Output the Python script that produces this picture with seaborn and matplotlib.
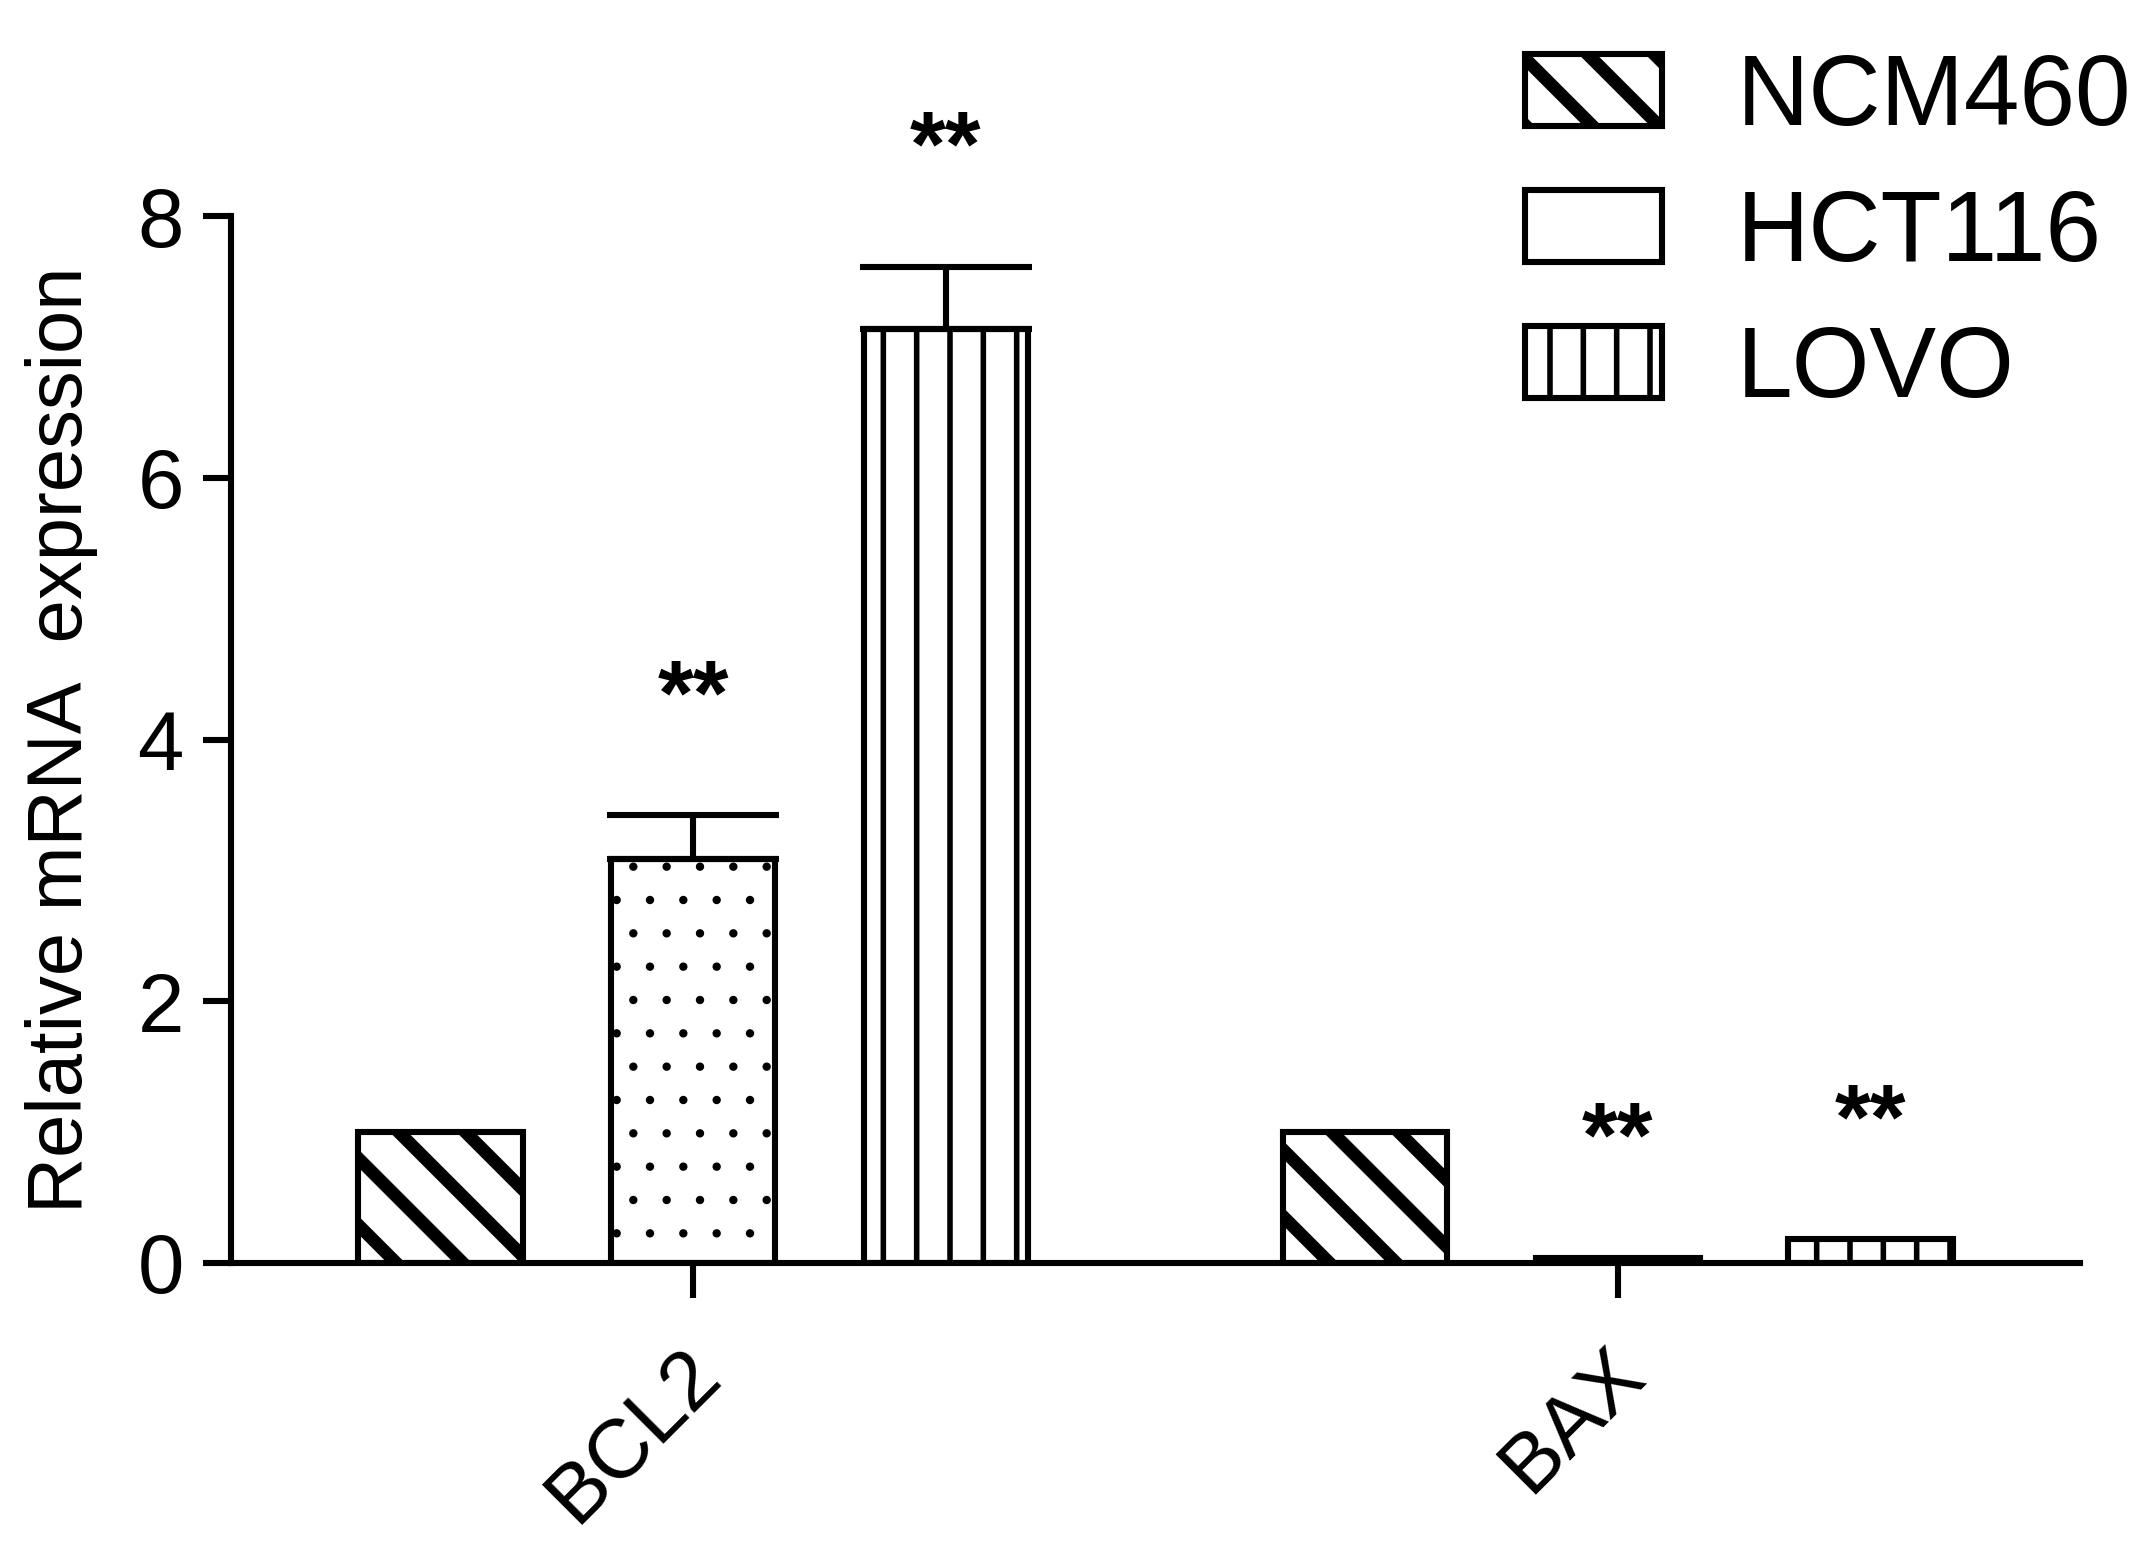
import pandas as pd
import matplotlib
matplotlib.use("Agg")
import matplotlib.pyplot as plt
import matplotlib.patches as mpatches
import matplotlib.transforms as mtransforms
import seaborn as sns

# Data
genes = ["BCL2", "BAX"]
cells = ["NCM460", "HCT116", "LOVO"]
bcl2_mean = [1.0, 3.09, 7.14]
bax_mean = [1.0, 0.04, 0.18]
bcl2_sd = [0.0, 0.33, 0.47]
bax_sd = [0.0, 0.0, 0.0]
signif = ["", "**", "**"]

y_ticks = [0, 2, 4, 6, 8]
y_label = "Relative mRNA  expression"

# hatch pattern and hatch line width (pt) per cell line
hatches = {"NCM460": "\\", "HCT116": ".", "LOVO": "|"}
legend_hatches = {"NCM460": "\\", "HCT116": "", "LOVO": "|"}
hatch_lw = {"NCM460": 4.6, "HCT116": 0.6, "LOVO": 2.0}

DPI = 200
W, H = 2141, 1562


def build_frame():
    rows = []
    for gene, means, sds in [("BCL2", bcl2_mean, bcl2_sd), ("BAX", bax_mean, bax_sd)]:
        for cell, m, s, star in zip(cells, means, sds, signif):
            rows.append({"gene": gene, "cell": cell, "value": m, "sd": s, "star": star})
    return pd.DataFrame(rows)


def set_hatch_lw(patch, lw):
    if hasattr(patch, "set_hatch_linewidth"):
        patch.set_hatch_linewidth(lw)
    else:
        patch._hatch_linewidth = lw


def style_bar(patch, cell, lw):
    patch.set_facecolor("white")
    patch.set_edgecolor("black")
    patch.set_linewidth(lw)
    patch.set_hatch(hatches[cell])
    set_hatch_lw(patch, hatch_lw[cell])


def main():
    df = build_frame()

    sns.set_style("ticks", rc={"text.color": "black", "axes.labelcolor": "black",
                               "xtick.color": "black", "ytick.color": "black"})
    plt.rcParams["font.family"] = ["Liberation Sans", "DejaVu Sans"]
    plt.rcParams["hatch.color"] = "black"
    plt.rcParams["hatch.linewidth"] = 2.0

    fig = plt.figure(figsize=(W / DPI, H / DPI), dpi=DPI)
    ax = fig.add_axes([231 / W, 299 / H, (2080 - 231) / W, (1263 - 216) / H])

    sns.barplot(data=df, x="gene", y="value", hue="cell", order=genes,
                hue_order=cells, errorbar=None, width=0.82, gap=0.35,
                legend=False, ax=ax)

    edge_lw = 2.2
    for cell, container in zip(cells, ax.containers):
        sub = df[df["cell"] == cell].reset_index(drop=True)
        for patch, (_, row) in zip(container.patches, sub.iterrows()):
            style_bar(patch, cell, edge_lw)
            cx = patch.get_x() + patch.get_width() / 2
            top = patch.get_height()
            if row["sd"] > 0:
                ax.errorbar([cx], [top], yerr=[[0], [row["sd"]]], fmt="none",
                            ecolor="black", elinewidth=edge_lw, capsize=31,
                            capthick=edge_lw, zorder=1)
            if row["star"]:
                ax.text(cx, top + row["sd"] + 0.88, row["star"], ha="center",
                        va="center", fontsize=33, fontweight="bold",
                        color="black")

    ax.set_ylim(0, 8)
    ax.set_xlim(-0.5, 1.5)
    ax.set_yticks(y_ticks)
    ax.set_yticklabels([str(t) for t in y_ticks], fontsize=30)
    ax.set_xticks(range(len(genes)))
    ax.set_xticklabels(genes, fontsize=30, rotation=45, ha="right",
                       va="center", rotation_mode="anchor")
    ax.tick_params(axis="y", length=10, width=edge_lw, pad=7, color="black")
    ax.tick_params(axis="x", length=12.6, width=edge_lw, pad=28, color="black")
    # nudge the rotated gene labels a little along their baseline
    shift = mtransforms.ScaledTranslation(14 / DPI, 14 / DPI, fig.dpi_scale_trans)
    for lab in ax.get_xticklabels():
        lab.set_transform(lab.get_transform() + shift)
    ax.set_xlabel("")
    ax.set_ylabel(y_label, fontsize=28, labelpad=14)

    sns.despine(ax=ax)
    for side in ["left", "bottom"]:
        ax.spines[side].set_linewidth(edge_lw)
        ax.spines[side].set_color("black")

    handles = []
    for cell in cells:
        h = mpatches.Patch(facecolor="white", edgecolor="black",
                           linewidth=edge_lw, hatch=legend_hatches[cell], label=cell)
        handles.append(h)
    leg = fig.legend(handles=handles, loc="upper left",
                     bbox_to_anchor=(1525 / W, 1 - 52 / H), frameon=False,
                     fontsize=36, handlelength=1.37, handleheight=0.73,
                     handletextpad=0.75, labelspacing=0.42, borderpad=0,
                     borderaxespad=0)
    for cell, p in zip(cells, leg.get_patches()):
        set_hatch_lw(p, hatch_lw[cell])

    fig.savefig("out.png", dpi=DPI)
    plt.close(fig)


if __name__ == "__main__":
    main()
